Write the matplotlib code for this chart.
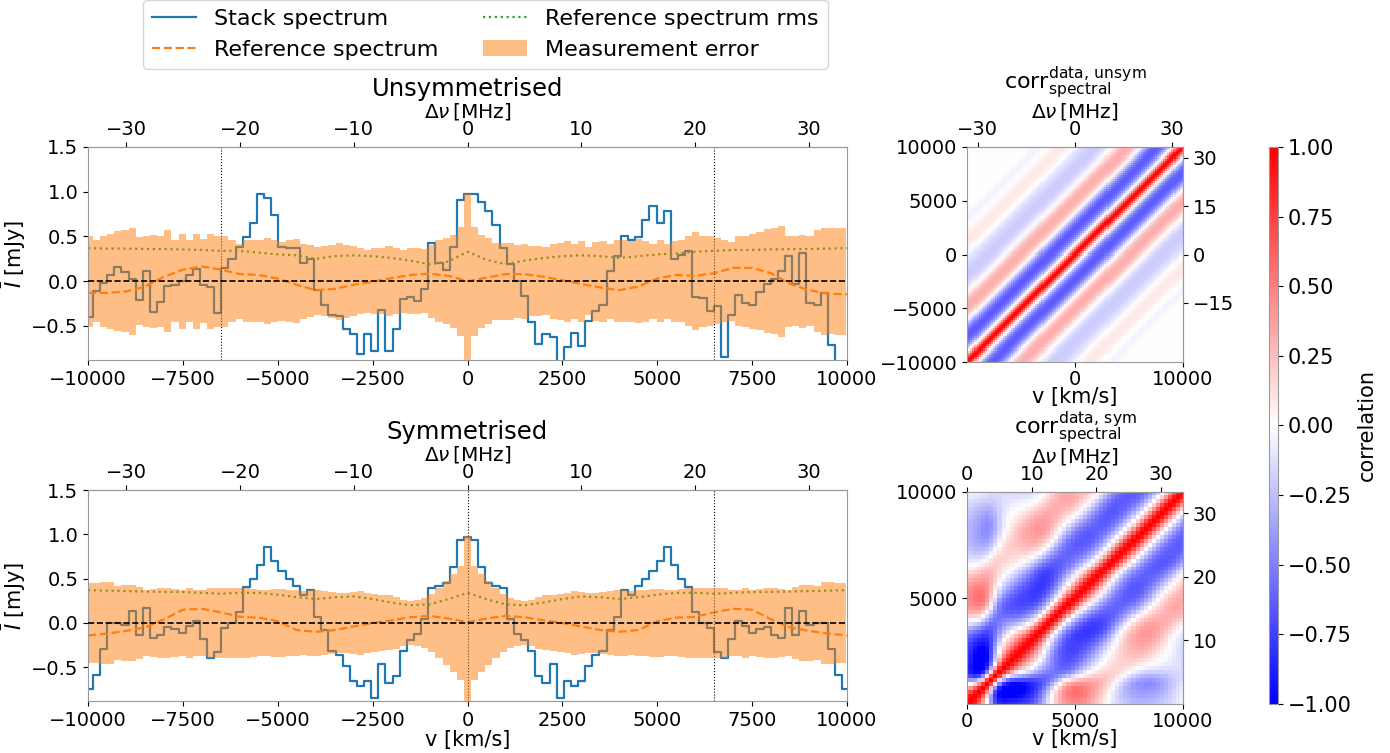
"""
Stacked spectrum vs reference spectrum, with spectral correlation matrices
"""

import numpy as np
import matplotlib
matplotlib.use("Agg")
import matplotlib.pyplot as plt
from matplotlib.ticker import FuncFormatter

plt.rcParams['font.family'] = 'DejaVu Sans'
plt.rcParams['axes.edgecolor'] = '0.6'

# Channel grid (km/s), 188 km/s channels centred on v = 0
dv = 188.0
chan = np.arange(-53, 54)
v_chan = chan * dv
chan_half = np.arange(0, 54)
v_half = chan_half * dv

# frequency offset in MHz for 1 km/s
mhz_per_kms = 33.36 / 10000

# Unsymmetrised stack, channels -53 .. 53
stack_unsym = [
    -0.40, -0.11, -0.02, 0.07, 0.16, 0.10, 0.03, -0.21, 0.11, -0.34,
    -0.23, -0.05, -0.04, 0.00, 0.07, 0.14, -0.04, -0.06, -0.36, 0.15,
    0.25, 0.38, 0.49, 0.65, 0.98, 0.93, 0.74, 0.38, 0.37, 0.37,
    0.20, 0.25, -0.10, -0.26, -0.38, -0.39, -0.53, -0.59, -0.81, -0.59,
    -0.78, -0.32, -0.78, -0.53, -0.20, -0.18, -0.22, -0.09, 0.43, 0.20,
    0.13, 0.38, 0.91,
    0.97,
    0.98, 0.88, 0.78, 0.63, 0.37, 0.19, 0.00, -0.17, -0.46, -0.70,
    -0.59, -0.62, -0.90, -0.73, -0.58, -0.72, -0.44, -0.33, -0.26, 0.12,
    0.28, 0.51, 0.46, 0.49, 0.68, 0.84, 0.65, 0.78, 0.25, 0.29,
    0.34, -0.18, -0.19, -0.33, -0.28, -0.85, -0.38, -0.15, -0.24, -0.27,
    -0.12, -0.03, 0.03, 0.11, 0.28, -0.03, 0.32, -0.24, -0.27, -0.13,
    -0.71, -0.95, -0.95,
]

# Measurement error (1 sigma) per channel, unsymmetrised
err_unsym = [
    0.51, 0.46, 0.51, 0.53, 0.56, 0.57, 0.60, 0.49, 0.51, 0.52,
    0.51, 0.57, 0.46, 0.53, 0.46, 0.53, 0.47, 0.53, 0.51, 0.51,
    0.46, 0.42, 0.46, 0.46, 0.46, 0.48, 0.46, 0.44, 0.46, 0.47,
    0.42, 0.40, 0.38, 0.39, 0.41, 0.43, 0.41, 0.39, 0.37, 0.35,
    0.37, 0.37, 0.39, 0.37, 0.35, 0.37, 0.37, 0.36, 0.41, 0.46,
    0.48, 0.52, 0.61,
    0.98,
    0.61, 0.52, 0.48, 0.43, 0.43, 0.43, 0.41, 0.42, 0.39, 0.39,
    0.38, 0.42, 0.43, 0.45, 0.42, 0.45, 0.38, 0.44, 0.45, 0.42,
    0.46, 0.46, 0.45, 0.47, 0.45, 0.42, 0.46, 0.42, 0.45, 0.46,
    0.50, 0.55, 0.51, 0.50, 0.48, 0.46, 0.44, 0.50, 0.51, 0.53,
    0.55, 0.58, 0.59, 0.62, 0.51, 0.50, 0.52, 0.50, 0.57, 0.60,
    0.59, 0.60, 0.60,
]

# Reference spectrum and its rms, sampled every 500 km/s
v_ref = np.arange(-10000, 10001, 500)
ref_unsym = [
    -0.13, -0.13, -0.115, -0.06, 0.05, 0.13, 0.165, 0.13, 0.08, 0.07,
    0.03, -0.04, -0.10, -0.085, -0.04, -0.005, 0.035, 0.07, 0.085, 0.06,
    0.00,
    0.04, 0.08, 0.08, 0.05, 0.01, -0.03, -0.07, -0.10, -0.06, 0.03,
    0.07, 0.06, 0.09, 0.15, 0.15, 0.09, -0.03, -0.10, -0.14, -0.145,
]
rms_unsym = [
    0.37, 0.365, 0.365, 0.36, 0.36, 0.355, 0.35, 0.34, 0.34, 0.32,
    0.30, 0.29, 0.25, 0.28, 0.29, 0.28, 0.26, 0.23, 0.19, 0.22,
    0.33,
    0.24, 0.19, 0.23, 0.26, 0.28, 0.29, 0.28, 0.26, 0.28, 0.30,
    0.31, 0.33, 0.34, 0.35, 0.35, 0.355, 0.36, 0.36, 0.365, 0.37,
]

# Symmetrised spectrum, channels 0 .. 53 (mirrored about v = 0)
stack_sym_half = [
    0.97, 0.94, 0.63, 0.45, 0.42, 0.40, 0.05, -0.12, -0.19, -0.32,
    -0.60, -0.68, -0.46, -0.85, -0.66, -0.71, -0.66, -0.49, -0.36, -0.32,
    -0.08, 0.07, 0.37, 0.32, 0.42, 0.50, 0.59, 0.70, 0.86, 0.65,
    0.50, 0.41, 0.12, 0.00, -0.06, -0.33, -0.39, -0.18, 0.02, -0.03,
    -0.11, -0.07, -0.04, -0.13, -0.17, 0.17, -0.14, 0.13, -0.02, 0.00,
    0.00, -0.29, -0.59, -0.75,
]
err_sym_half = [
    0.98, 0.64, 0.55, 0.47, 0.40, 0.33, 0.28, 0.26, 0.25, 0.26,
    0.29, 0.31, 0.32, 0.33, 0.34, 0.36, 0.35, 0.34, 0.34, 0.35,
    0.36, 0.37, 0.37, 0.36, 0.37, 0.37, 0.38, 0.38, 0.37, 0.37,
    0.38, 0.39, 0.40, 0.39, 0.40, 0.39, 0.40, 0.37, 0.37, 0.39,
    0.37, 0.38, 0.39, 0.40, 0.38, 0.37, 0.41, 0.43, 0.43, 0.42,
    0.46, 0.46, 0.45, 0.45,
]
v_ref_half = np.arange(0, 10001, 500)
ref_sym_half = [
    0.01, 0.05, 0.08, 0.065, 0.03, 0.00, -0.04, -0.08, -0.10, -0.08,
    0.02, 0.06, 0.07, 0.12, 0.16, 0.15, 0.04, -0.05, -0.09, -0.12,
    -0.14,
]
rms_sym_half = [
    0.34, 0.27, 0.21, 0.20, 0.23, 0.27, 0.30, 0.29, 0.27, 0.29,
    0.32, 0.34, 0.34, 0.33, 0.34, 0.35, 0.35, 0.355, 0.36, 0.365,
    0.37,
]

# Channel-channel correlation as a function of lag (in channels, 0 .. 106)
corr_lag = np.array([
    1.00, 0.90, 0.68, 0.42, 0.18, 0.00, -0.16, -0.30, -0.42, -0.52,
    -0.58, -0.62, -0.64, -0.64, -0.62, -0.57, -0.50, -0.41, -0.30, -0.18,
    -0.07, 0.03, 0.12, 0.19, 0.25, 0.29, 0.31, 0.32, 0.32, 0.30,
    0.27, 0.22, 0.16, 0.10, 0.04, -0.01, -0.06, -0.10, -0.13, -0.16,
    -0.18, -0.19, -0.20, -0.20, -0.20, -0.19, -0.18, -0.17, -0.15, -0.13,
    -0.11, -0.09, -0.06, -0.03, 0.00, 0.03, 0.05, 0.07, 0.08, 0.09,
    0.09, 0.09, 0.08, 0.07, 0.05, 0.03, 0.01, -0.01, -0.02, -0.03,
    -0.04, -0.04, -0.04, -0.03, -0.02, -0.01, 0.00, 0.00, 0.00, 0.00,
    0.00, 0.00, 0.00, 0.00, 0.00, 0.00, 0.00, 0.00, 0.00, 0.00,
    0.00, 0.00, 0.00, 0.00, 0.00, 0.00, 0.00, 0.00, 0.00, 0.00,
    0.00, 0.00, 0.00, 0.00, 0.00, 0.00, 0.00,
])

# vertical markers
vlines_unsym = [-6500, 6500]
vlines_sym = [0, 6500]


def mirror(half):
    half = np.asarray(half)
    return np.concatenate([half[:0:-1], half])


def v2nu(v):
    return np.asarray(v) * mhz_per_kms


def nu2v(nu):
    return np.asarray(nu) / mhz_per_kms


# Full symmetrised arrays
stack_sym = mirror(stack_sym_half)
err_sym = mirror(err_sym_half)
v_ref_sym = np.concatenate([-v_ref_half[:0:-1], v_ref_half])
ref_sym = mirror(ref_sym_half)
rms_sym = mirror(rms_sym_half)

# Correlation matrices
idx = np.arange(len(corr_lag))
corr_unsym = corr_lag[np.abs(idx[:, None] - idx[None, :])]
h = chan_half
num = corr_lag[np.abs(h[:, None] - h[None, :])] + corr_lag[h[:, None] + h[None, :]]
nrm = np.sqrt(1 + corr_lag[2 * h])
corr_sym = np.clip(num / (nrm[:, None] * nrm[None, :]), -1, 1)


# Figure

W, H = 1390, 753
fig = plt.figure(figsize=(W / 100, H / 100), dpi=100)


def box(x0, y0, x1, y1):
    return [x0 / W, 1 - y1 / H, (x1 - x0) / W, (y1 - y0) / H]


TICK = 14
LAB = 14.5
TITLE = 17.5


def spectrum_panel(rect, title, stack, err, ref, rms, v_r, vlines, xlabel):
    ax = fig.add_axes(rect)
    ax.step(v_chan, stack, where='mid', color='C0', lw=1.6,
            label='Stack spectrum', zorder=2)
    ax.plot(v_r, ref, color='C1', ls='--', lw=1.6,
            label='Reference spectrum', zorder=2)
    ax.plot(v_r, rms, color='C2', ls=':', lw=1.6,
            label='Reference spectrum rms', zorder=2)
    for x in vlines:
        ax.axvline(x, color='k', ls=':', lw=0.8, zorder=2)
    ax.fill_between(v_chan, -np.asarray(err), np.asarray(err), step='mid',
                    color='C1', alpha=0.5, lw=0, label='Measurement error',
                    zorder=2.5)
    ax.axhline(0, color='k', ls='--', lw=1.2, zorder=3)

    ax.set_xlim(-10000, 10000)
    ax.set_ylim(-0.88, 1.5)
    ax.set_xticks([-10000, -7500, -5000, -2500, 0, 2500, 5000, 7500, 10000])
    ax.set_yticks([-0.5, 0.0, 0.5, 1.0, 1.5])
    ax.tick_params(labelsize=TICK)
    ax.set_ylabel(r'$\bar{I}$ [mJy]', fontsize=15, labelpad=2)
    if xlabel:
        ax.set_xlabel('v [km/s]', fontsize=15, labelpad=0)

    sec = ax.secondary_xaxis('top', functions=(v2nu, nu2v))
    sec.set_xticks([-30, -20, -10, 0, 10, 20, 30])
    sec.tick_params(labelsize=TICK, pad=2)
    sec.set_xlabel(r'$\Delta\nu\,$[MHz]', fontsize=LAB, labelpad=2)
    ax.set_title(title, fontsize=TITLE, pad=3)
    return ax


def corr_panel(rect, title, mat, extent, lims, xt, yt, top_t, right_t):
    ax = fig.add_axes(rect)
    im = ax.imshow(mat, origin='lower', extent=extent, cmap='bwr',
                   vmin=-1, vmax=1, interpolation='nearest', aspect='auto')
    ax.set_xlim(*lims)
    ax.set_ylim(*lims)
    ax.set_xticks(xt)
    ax.set_yticks(yt)
    ax.tick_params(labelsize=TICK)
    ax.tick_params(axis='x', pad=2)
    ax.set_xlabel('v [km/s]', fontsize=15, labelpad=-1)

    sec = ax.secondary_xaxis('top', functions=(v2nu, nu2v))
    sec.set_xticks(top_t)
    sec.tick_params(labelsize=TICK, pad=2)
    sec.set_xlabel(r'$\Delta\nu\,$[MHz]', fontsize=LAB, labelpad=2)
    sec_r = ax.secondary_yaxis('right', functions=(v2nu, nu2v))
    sec_r.set_yticks(right_t)
    sec_r.tick_params(labelsize=TICK)
    ax.set_title(title, fontsize=16, pad=1)
    return im


ax_top = spectrum_panel(box(88, 147, 847, 360), 'Unsymmetrised',
                        stack_unsym, err_unsym, ref_unsym, rms_unsym, v_ref,
                        vlines_unsym, False)
ax_bot = spectrum_panel(box(88, 490, 847, 701), 'Symmetrised',
                        stack_sym, err_sym, ref_sym, rms_sym, v_ref_sym,
                        vlines_sym, True)

half = dv / 2
im = corr_panel(box(967, 147, 1183, 362),
                r'corr$^{\rm data,\,unsym}_{\rm spectral}$', corr_unsym,
                [v_chan[0] - half, v_chan[-1] + half,
                 v_chan[0] - half, v_chan[-1] + half],
                (-10000, 10000), [0, 10000],
                [-10000, -5000, 0, 5000, 10000], [-30, 0, 30],
                [-15, 0, 15, 30])
corr_panel(box(967, 492, 1183, 704),
           r'corr$^{\rm data,\,sym}_{\rm spectral}$', corr_sym,
           [v_half[0] - half, v_half[-1] + half,
            v_half[0] - half, v_half[-1] + half],
           (0, 10000), [0, 5000, 10000], [5000, 10000],
           [0, 10, 20, 30], [10, 20, 30])

cax = fig.add_axes(box(1269, 147, 1278, 704))
cb = fig.colorbar(im, cax=cax, ticks=np.arange(-1, 1.01, 0.25),
                  format=FuncFormatter(lambda x, pos: f'{x:.2f}'.replace('-', '\u2212')))
cb.ax.tick_params(labelsize=15)
cb.set_label('correlation', fontsize=15)
cb.outline.set_edgecolor('0.6')

handles, labels = ax_top.get_legend_handles_labels()
order = [labels.index(l) for l in ['Stack spectrum', 'Reference spectrum',
                                   'Reference spectrum rms',
                                   'Measurement error']]
fig.legend([handles[i] for i in order], [labels[i] for i in order],
           loc='upper left', bbox_to_anchor=(143 / W, 1.0), ncol=2,
           fontsize=16, frameon=True, borderaxespad=0.0)

fig.savefig('out.png', dpi=100)
